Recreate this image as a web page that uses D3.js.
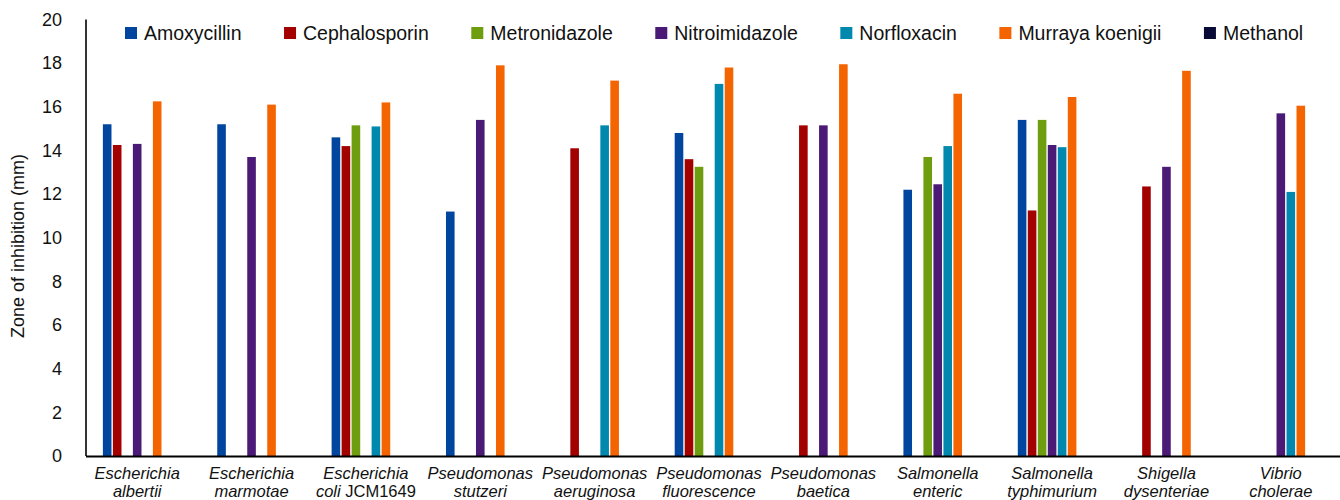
<!DOCTYPE html>
<html>
<head>
<meta charset="utf-8">
<script src="https://cdn.jsdelivr.net/npm/d3@7"></script>
<style>
  html, body { margin: 0; padding: 0; background: #fff; }
  svg { display: block; font-family: "Liberation Sans", Arial, Helvetica, sans-serif; }
</style>
</head>
<body>
<svg id="chart" width="1340" height="500"></svg>
<script>
// ---- data ----
const categoriesLine1 = ["Escherichia", "Escherichia", "Escherichia", "Pseudomonas", "Pseudomonas", "Pseudomonas", "Pseudomonas", "Salmonella", "Salmonella", "Shigella", "Vibrio"];
const categoriesLine2 = ["albertii", "marmotae", "coli", "stutzeri", "aeruginosa", "fluorescence", "baetica", "enteric", "typhimurium", "dysenteriae", "cholerae"];
const categoriesStrain = ["", "", "JCM1649", "", "", "", "", "", "", "", ""];
const seriesNames = ["Amoxycillin", "Cephalosporin", "Metronidazole", "Nitroimidazole", "Norfloxacin", "Murraya koenigii", "Methanol"];
const seriesColors = ["#00469e", "#a30000", "#6e9d10", "#4a1a76", "#0088ae", "#f46400", "#0a0a36"];
const amoxycillin    = [15.2, 15.2, 14.6, 11.2, null, 14.8, null, 12.2, 15.4, null, null];
const cephalosporin  = [14.25, null, 14.2, null, 14.1, 13.6, 15.15, null, 11.25, 12.35, null];
const metronidazole  = [null, null, 15.15, null, null, 13.25, null, 13.7, 15.4, null, null];
const nitroimidazole = [14.3, 13.7, null, 15.4, null, null, 15.15, 12.45, 14.25, 13.25, 15.7];
const norfloxacin    = [null, null, 15.1, null, 15.15, 17.05, null, 14.2, 14.15, null, 12.1];
const murrayaKoenigii = [16.25, 16.1, 16.2, 17.9, 17.2, 17.8, 17.95, 16.6, 16.45, 17.65, 16.05];
const methanol       = [null, null, null, null, null, null, null, null, null, null, null];
const yTicks = [0, 2, 4, 6, 8, 10, 12, 14, 16, 18, 20];
const yTitle = "Zone of inhibition (mm)";

const seriesValues = [amoxycillin, cephalosporin, metronidazole, nitroimidazole, norfloxacin, murrayaKoenigii, methanol];

// ---- layout ----
const svg = d3.select("#chart");
const catIdx = d3.range(categoriesLine1.length);
const x = d3.scaleBand().domain(catIdx).range([80, 1338]).paddingInner(0).paddingOuter(0);
const clusterW = 70;
const xs = d3.scaleBand().domain(d3.range(seriesNames.length)).range([0, clusterW]);
const y = d3.scaleLinear().domain([0, 20]).range([456, 19.5]);
const barW = 8.6;

// bars
seriesValues.forEach((vals, si) => {
  svg.append("g").selectAll("rect")
    .data(vals.map((v, ci) => ({ v, ci })).filter(d => d.v != null))
    .join("rect")
    .attr("x", d => x(d.ci) + (x.bandwidth() - clusterW) / 2 + xs(si) + (xs.bandwidth() - barW) / 2)
    .attr("y", d => y(d.v))
    .attr("width", barW)
    .attr("height", d => y(0) - y(d.v))
    .attr("fill", seriesColors[si]);
});

// y axis
const yAxis = d3.axisLeft(y).tickValues(yTicks).tickSize(0).tickPadding(24);
const gy = svg.append("g").attr("transform", "translate(86,0)").call(yAxis);
gy.select(".domain").attr("stroke", "#000").attr("stroke-width", 1.6).attr("d", `M0,${y(20)}V${y(0)}`);
gy.selectAll("text").attr("font-size", 18).attr("fill", "#111").attr("font-family", "Liberation Sans, Arial, sans-serif");

// x axis line
svg.append("line").attr("x1", 86).attr("x2", 1340).attr("y1", y(0) + 0.5).attr("y2", y(0) + 0.5)
  .attr("stroke", "#000").attr("stroke-width", 2);

// x labels
const xl = svg.append("g").attr("font-size", 16.5).attr("fill", "#111").attr("text-anchor", "middle");
catIdx.forEach(ci => {
  const cx = x(ci) + x.bandwidth() / 2;
  xl.append("text").attr("x", cx).attr("y", 479).attr("font-style", "italic").text(categoriesLine1[ci]);
  const t = xl.append("text").attr("x", cx).attr("y", 497);
  t.append("tspan").attr("font-style", "italic").text(categoriesLine2[ci]);
  if (categoriesStrain[ci]) t.append("tspan").text(" " + categoriesStrain[ci]);
});

// y title
svg.append("text").attr("transform", "translate(24,246) rotate(-90)")
  .attr("text-anchor", "middle").attr("font-size", 18).attr("fill", "#111").text(yTitle);

// legend
const lg = svg.append("g");
let lx = 125;
seriesNames.forEach((name, si) => {
  lg.append("rect").attr("x", lx).attr("y", 27).attr("width", 12).attr("height", 12).attr("fill", seriesColors[si]);
  const t = lg.append("text").attr("x", lx + 19).attr("y", 39.5).attr("font-size", 19.5).attr("fill", "#111").text(name);
  lx += 19 + t.node().getComputedTextLength() + 42.5;
});
</script>
</body>
</html>
